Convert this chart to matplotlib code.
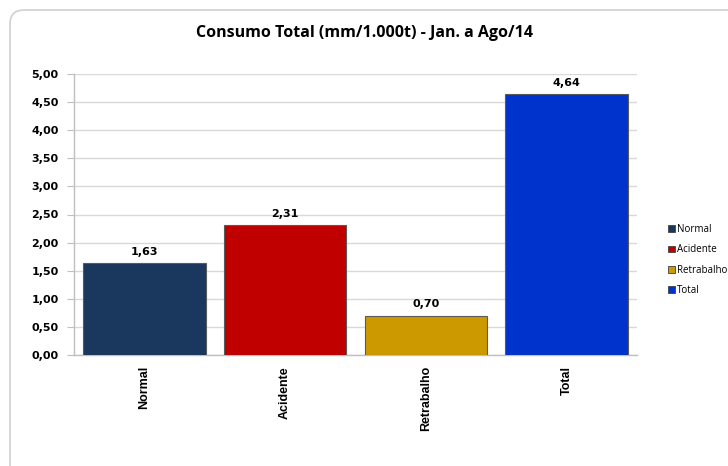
#!/usr/bin/env python3

import matplotlib
matplotlib.use('Agg')
import matplotlib.pyplot as plt
import matplotlib.patches as mpatches
from matplotlib.transforms import IdentityTransform
import numpy as np


# Chart data
categories = ['Normal', 'Acidente', 'Retrabalho', 'Total']
values = [1.63, 2.31, 0.70, 4.64]
colors = ['#1A375E', '#C00000', '#CC9900', '#0033CC']
title = 'Consumo Total (mm/1.000t) - Jan. a Ago/14'
y_ticks = [0.0, 0.5, 1.0, 1.5, 2.0, 2.5, 3.0, 3.5, 4.0, 4.5, 5.0]


# Brazilian style number formatting, comma as decimal separator
def br_format(value):
    return ('%.2f' % value).replace('.', ',')


fig = plt.figure(figsize=(7.28, 4.66), dpi=100)
fig.patch.set_facecolor('white')

# Rounded frame of the chart area, partly outside the picture
frame = mpatches.FancyBboxPatch((10, -60), 800, 516,
                                boxstyle='round,pad=0,rounding_size=14',
                                transform=IdentityTransform(),
                                facecolor='white', edgecolor='#D0D0D0', linewidth=1.2, zorder=-5)
fig.add_artist(frame)

ax = fig.add_axes([74 / 728, 1 - 355 / 466, (637 - 74) / 728, (355 - 74) / 466])
ax.set_zorder(2)
ax.set_facecolor('none')

x = np.arange(len(categories))
bars = ax.bar(x, values, width=0.87, color=colors, edgecolor='#5A5A5A', linewidth=0.8, zorder=3)

# Value labels above each bar
for bar, value in zip(bars, values):
    ax.text(bar.get_x() + bar.get_width() / 2, value + 0.11, br_format(value),
            ha='center', va='bottom', fontsize=8, fontweight='bold', family='DejaVu Sans', zorder=4)

ax.set_xlim(-0.5, len(categories) - 0.5)
ax.set_ylim(0, 5)
ax.set_yticks(y_ticks)
ax.set_yticklabels([br_format(t) for t in y_ticks], fontsize=8, fontweight='bold', family='DejaVu Sans')
ax.set_xticks(x)
ax.set_xticklabels(categories, rotation=90, fontsize=9, fontweight='bold', family='Liberation Sans')

ax.yaxis.grid(True, color='#D9D9D9', linewidth=1, zorder=0)
ax.tick_params(axis='y', length=5, color='#BFBFBF', pad=6)
ax.tick_params(axis='x', length=0, pad=8)
for side in ['top', 'right']:
    ax.spines[side].set_visible(False)
for side in ['left', 'bottom']:
    ax.spines[side].set_color('#BFBFBF')
    ax.spines[side].set_linewidth(1)

fig.text(364 / 728, 1 - 33 / 466, title, ha='center', va='center',
         fontsize=11.5, fontweight='bold', family='Open Sans', zorder=3)

# Legend on the right side
handles = [mpatches.Patch(facecolor=c, edgecolor='#404040', linewidth=0.6, label=n)
           for c, n in zip(colors, categories)]
fig.legend(handles=handles, loc='center left', bbox_to_anchor=(664 / 728, 1 - 260 / 466),
           frameon=False, handlelength=0.7, handleheight=0.7,
           handletextpad=0.25, labelspacing=0.95, borderaxespad=0,
           prop={'family': 'Open Sans', 'size': 7})

fig.savefig('out.png', dpi=100)
